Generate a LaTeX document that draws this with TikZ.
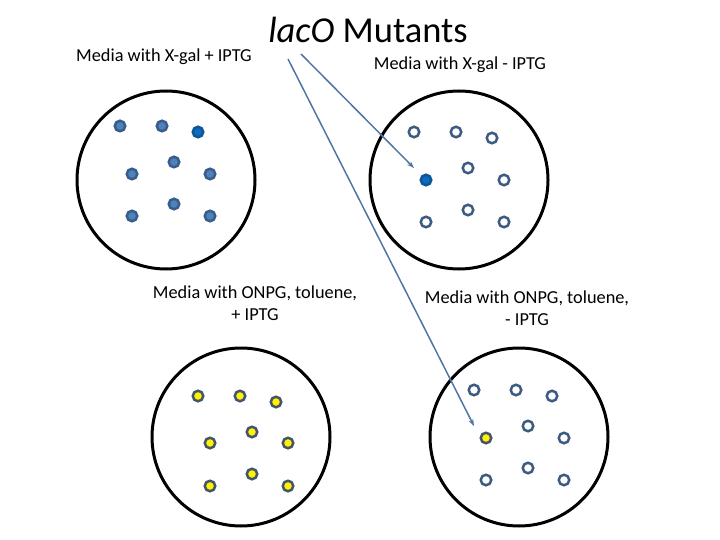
\documentclass[tikz,border=0pt]{standalone}
\usepackage{fontspec}
\setmainfont{Carlito}
\usetikzlibrary{arrows.meta}
\definecolor{dotfill}{HTML}{4F81BD}
\definecolor{dotedge}{HTML}{385D8A}
\definecolor{ringedge}{HTML}{3D5B80}
\definecolor{bluefill}{HTML}{0F6BC0}
\definecolor{yedge}{HTML}{44546A}
\definecolor{arrowc}{HTML}{4F76A6}
\tikzset{
  plate/.style={draw=black, line width=3pt, circle, minimum size=178pt, inner sep=0pt},
  colony/.style={circle, inner sep=0pt, minimum size=10.5pt, line width=2.5pt, draw=dotedge, fill=dotfill},
  whitecol/.style={colony, draw=ringedge, fill=white},
  bluecol/.style={colony, draw=bluefill!80!black, fill=bluefill},
  yellowcol/.style={colony, draw=yedge, fill=yellow},
  lbl/.style={font=\fontsize{18.3}{22}\selectfont, align=center, anchor=base, inner sep=0pt},
  arr/.style={draw=arrowc, line width=1.5pt, -{Stealth[length=7pt,width=5pt]}}
}
\begin{document}
\begin{tikzpicture}[x=1pt,y=-1pt]
\useasboundingbox (0,0) rectangle (720,540);
% title and labels
\node[lbl, font=\fontsize{36.5}{40}\selectfont] (title) at (368,43) {\textit{lacO} Mutants};
\node[lbl] (l1) at (164,62) {Media with X-gal + IPTG};
\node[lbl] (l2) at (460,70) {Media with X-gal - IPTG};
\node[lbl] (l3) at (255,298) {Media with ONPG, toluene,};
\node[lbl] (l3b) at (255,320) {+ IPTG};
\node[lbl] (l4) at (527,303) {Media with ONPG, toluene,};
\node[lbl] (l4b) at (527,325) {- IPTG};
% plates
\node[plate] (p1) at (166,180) {};
\node[plate] (p2) at (459,180) {};
\node[plate] (p3) at (241,437) {};
\node[plate] (p4) at (519,437) {};
% plate 1
\node[colony] (a1) at (120,126) {};
\node[colony] (a2) at (162,126) {};
\node[bluecol] (a3) at (198,132) {};
\node[colony] (a4) at (174,162) {};
\node[colony] (a5) at (132,174) {};
\node[colony] (a6) at (210,174) {};
\node[colony] (a7) at (174,204) {};
\node[colony] (a8) at (132,216) {};
\node[colony] (a9) at (210,216) {};
% plate 2
\node[whitecol] (b1) at (414,132) {};
\node[whitecol] (b2) at (456,132) {};
\node[whitecol] (b3) at (492,138) {};
\node[whitecol] (b4) at (468,168) {};
\node[bluecol] (b5) at (426,180) {};
\node[whitecol] (b6) at (504,180) {};
\node[whitecol] (b7) at (468,210) {};
\node[whitecol] (b8) at (426,222) {};
\node[whitecol] (b9) at (504,222) {};
% plate 3
\node[yellowcol] (c1) at (198,396) {};
\node[yellowcol] (c2) at (240,396) {};
\node[yellowcol] (c3) at (276,402) {};
\node[yellowcol] (c4) at (252,432) {};
\node[yellowcol] (c5) at (210,443) {};
\node[yellowcol] (c6) at (288,443) {};
\node[yellowcol] (c7) at (252,474) {};
\node[yellowcol] (c8) at (210,486) {};
\node[yellowcol] (c9) at (288,486) {};
% plate 4
\node[whitecol] (d1) at (474,390) {};
\node[whitecol] (d2) at (516,390) {};
\node[whitecol] (d3) at (552,396) {};
\node[whitecol] (d4) at (528,426) {};
\node[yellowcol] (d5) at (486,438) {};
\node[whitecol] (d6) at (564,438) {};
\node[whitecol] (d7) at (528,468) {};
\node[whitecol] (d8) at (486,480) {};
\node[whitecol] (d9) at (564,480) {};
% arrows
\coordinate (s1) at (301,54);
\coordinate (s2) at (288,59);
\coordinate (e1) at (414,168);
\coordinate (e2) at (474,426);
\draw[arr] (s1) -- (e1);
\draw[arr] (s2) -- (e2);
\end{tikzpicture}
\end{document}
